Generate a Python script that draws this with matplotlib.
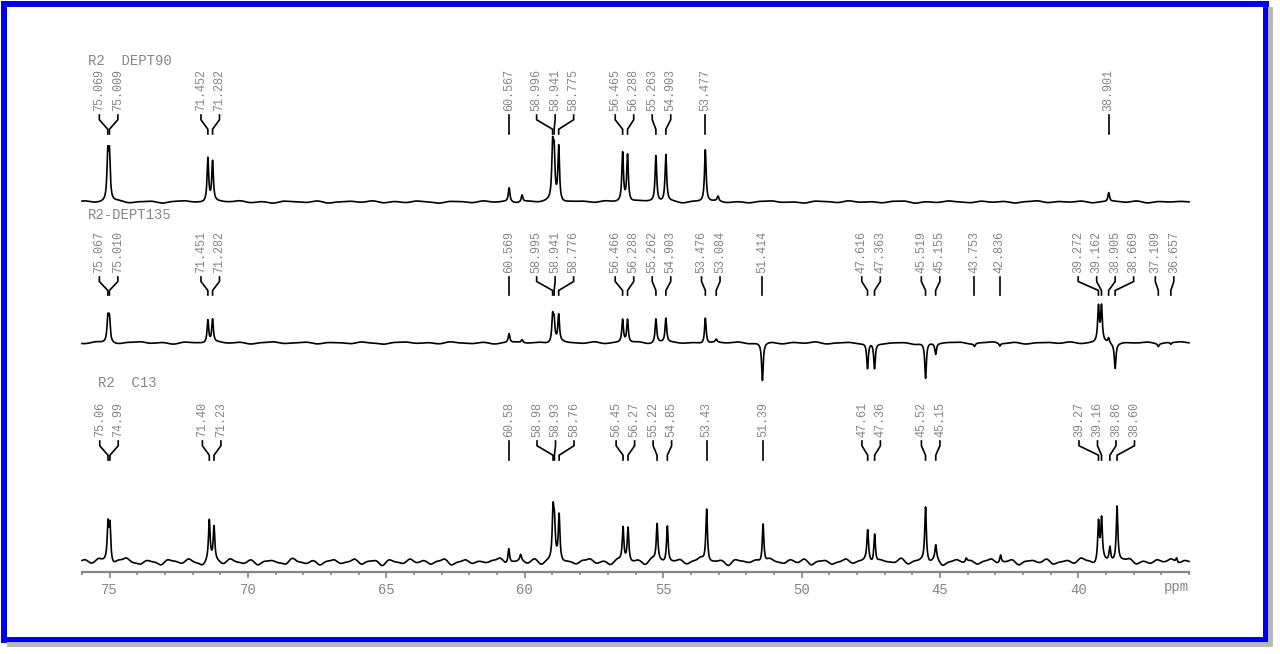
import numpy as np
import matplotlib.pyplot as plt
from matplotlib.patches import Rectangle
from matplotlib.ticker import MultipleLocator

# ---- peak lists (ppm, intensity in plot units) ----
d90_ppm = [75.069, 75.009, 71.452, 71.282, 60.567, 58.996, 58.941, 58.775,
           56.465, 56.288, 55.263, 54.903, 53.477, 38.901]
d90_int = [44, 44, 44, 40, 14, 50, 44, 55, 49, 47, 46, 47, 52, 9]
d90_minor_ppm = [60.10, 53.02]
d90_minor_int = [7, 5]

d135_ppm = [75.067, 75.010, 71.451, 71.282, 60.569, 58.995, 58.941, 58.776,
            56.466, 56.288, 55.262, 54.903, 53.476, 53.084, 51.414, 47.616,
            47.363, 45.519, 45.155, 43.753, 42.836, 39.272, 39.162, 38.905,
            38.669, 37.109, 36.657]
d135_int = [23, 23, 23, 23, 9, 25, 20, 27, 23, 23, 24, 24, 26, 3, -38, -26,
            -26, -36, -11, -3, -3, 35, 35, 5, -25, -3, -2]
d135_minor_ppm = [60.10]
d135_minor_int = [3]

c13_ppm = [75.06, 74.99, 71.40, 71.23, 60.58, 58.98, 58.93, 58.76, 56.45,
           56.27, 55.22, 54.85, 53.43, 51.39, 47.61, 47.36, 45.52, 45.15,
           39.27, 39.16, 38.86, 38.60]
c13_int = [36, 36, 40, 34, 15, 46, 32, 46, 34, 34, 37, 37, 54, 40, 30, 30,
           55, 14, 39, 40, 14, 56]
c13_minor_ppm = [60.15, 42.81, 44.05, 36.45]
c13_minor_int = [6, 8, 4, 5]

# baseline wiggles
c13_noise = [1.5, -1.0, 2.0, 0.5, -2.0, 1.0, 2.5, -0.5, -1.5, 1.0, 0.0, -2.0, 1.5, 0.5, -1.0, 2.0, -0.5, -2.5, 1.0, 0.5,
             -1.5, 2.0, 0.0, -1.0, 1.5, -2.0, 0.5, 1.0, -0.5, -1.5, 2.5, 0.0, -1.0, 1.0, -2.0, 0.5, 1.5, -1.0, 0.0, 2.0,
             -1.5, 0.5, 1.0, -2.5, 1.5, 0.0, -1.0, 2.0, -0.5, 1.0, -1.5, 0.5, 2.0, -2.0, 0.0, 1.5, -1.0, 0.5, -0.5, 1.0,
             2.5, -1.5, 0.0, 1.0, -1.0, 2.0, -2.0, 0.5, 1.5, -0.5, 0.0, -1.5, 1.0, 2.0, -1.0, 0.5, -2.0, 1.5, 0.0, -0.5,
             1.0, -2.0, 2.0, 0.5, -1.0, 0.0, 1.5, -1.5, 0.5, 2.5, -1.0, 0.0, 1.0, -2.5, 1.5, 0.5, -0.5, 1.0, -1.5, 2.0,
             0.0, -1.0, 1.5, -0.5, 2.0, -2.0, 0.5, 1.0, -1.5, 0.0, 2.0, -1.0, 0.5, 1.5, -2.0, 1.0, 0.0, -0.5, 2.5, -1.5,
             0.5, 1.0, -1.0, 2.0, -2.5, 0.0, 1.5, -0.5, 1.0, -1.5, 0.5, 2.0, -1.0, 0.0, 1.5, -2.0, 0.5, 1.0, -0.5, 2.0,
             -1.5, 0.0, 1.0, -1.0, 2.5, 0.5, -2.0, 1.5, 0.0, -0.5, 1.0, 2.0, -1.5, 0.5, -1.0, 1.5, 0.0, 2.0, -1.0, 1.0]
d90_noise = [0.8, -0.5, 0.3, 1.0, -0.8, 0.2, 0.6, -1.0, 0.4, 0.9, -0.3, -0.8, 0.5, 0.0, 1.0, -0.6, 0.3, -1.0, 0.7, 0.2,
             -0.4, 0.9, -0.9, 0.1, 0.6, -0.2, 1.0, -0.7, 0.4, -0.5, 0.8, 0.0, -1.0, 0.5, 0.3, -0.6, 0.9, -0.2, 0.4, -0.8,
             0.6, -0.3, 1.0, -0.9, 0.2, 0.5, -0.5, 0.8, -0.1, -0.7, 0.9, 0.3, -0.4, 0.6, -1.0, 0.4, 0.1, 0.8, -0.6, 0.2,
             -0.8, 0.5, 0.9, -0.3, 0.0, -0.9, 0.7, 0.4, -0.5, 1.0, -0.2, 0.3, -0.7, 0.6, 0.8, -1.0, 0.2, -0.4, 0.9, 0.1,
             -0.6, 0.7, -0.2, 0.5, -0.9, 0.3, 1.0, -0.5, 0.4, -0.1, 0.8, -0.7, 0.2, 0.6, -0.3, 0.9, -0.8, 0.4, 0.0, 0.5]
d135_noise = [-0.6, 0.9, 0.2, -0.8, 0.5, 1.0, -0.3, 0.4, -1.0, 0.7, 0.1, -0.5, 0.8, -0.2, 0.6, -0.9, 0.3, 1.0, -0.4, 0.0,
              0.7, -0.8, 0.4, 0.2, -0.6, 0.9, -0.1, -1.0, 0.5, 0.8, -0.3, 0.3, -0.7, 1.0, 0.0, -0.5, 0.6, -0.9, 0.2, 0.7,
              -0.2, 0.5, -0.8, 0.9, 0.1, -0.4, 1.0, -0.6, 0.3, -0.1, 0.8, -0.9, 0.4, 0.6, -0.3, 0.2, -1.0, 0.7, 0.0, 0.9,
              -0.5, 0.3, 0.8, -0.7, 0.5, -0.2, 1.0, -0.8, 0.1, 0.6, -0.4, 0.9, -0.6, 0.2, 0.4, -1.0, 0.7, -0.1, 0.5, 0.8,
              -0.7, 0.3, 1.0, -0.4, 0.6, -0.9, 0.2, 0.5, -0.3, 0.9, -0.6, 0.1, 0.7, -0.8, 0.4, 0.0, 0.8, -0.5, 0.6, 1.0]

tick_major = [75, 70, 65, 60, 55, 50, 45, 40]

# ---- layout (pixel units of the 1280x654 canvas) ----
W, H = 1280, 654
X_LEFT, X_RIGHT = 82, 1189          # ppm axis ends
PPM_LEFT, PPM_RIGHT = 76.0, 36.0
AXIS_Y = 572
PX_PER_PPM = (X_RIGHT - X_LEFT) / (PPM_LEFT - PPM_RIGHT)
GRAY = '#858585'
MONO = 'Liberation Mono'


def lorentz_sum(x, centers, heights, gamma):
    y = np.zeros_like(x)
    for c, h in zip(centers, heights):
        y += h / (1 + ((x - c) / gamma) ** 2)
    return y


def gauss_sum(x, centers, heights, sigma):
    y = np.zeros_like(x)
    for c, h in zip(centers, heights):
        y += h * np.exp(-0.5 * ((x - c) / sigma) ** 2)
    return y


def spread_labels(px, gap):
    """push labels apart so neighbours are at least `gap` px apart"""
    order = np.argsort(px)
    xs = np.asarray(px, dtype=float)[order]
    groups = [[i] for i in range(len(xs))]
    while True:
        pos = [xs[g].mean() + (np.arange(len(g)) - (len(g) - 1) / 2) * gap for g in groups]
        merged = False
        for k in range(len(groups) - 1):
            if pos[k][-1] + gap > pos[k + 1][0] + 1e-9:
                groups[k] = groups[k] + groups[k + 1]
                del groups[k + 1]
                merged = True
                break
        if not merged:
            break
    out = np.empty(len(xs))
    out[order] = np.concatenate(pos)
    return out


def draw_trace(ax, x, base, ppm, ints, minor_ppm, minor_int, noise, noise_step, noise_amp):
    y = lorentz_sum(x, ppm, ints, 0.035)
    y += lorentz_sum(x, minor_ppm, minor_int, 0.035)
    npos = 75.9 - noise_step * np.arange(len(noise))
    y += gauss_sum(x, npos, np.asarray(noise) * noise_amp, noise_step * 0.4)
    ax.plot(x, base - y, color='black', lw=1.2, clip_on=False)


def draw_labels(ax, ppm, fmt, y_text, y_top, y_bot):
    ppm = np.asarray(ppm)
    peak_px = X_LEFT + (PPM_LEFT - ppm) * PX_PER_PPM
    lab_px = spread_labels(peak_px, 18.5)
    lab_ppm = PPM_LEFT - (lab_px - X_LEFT) / PX_PER_PPM
    h = y_bot - y_top
    for p, lp in zip(ppm, lab_ppm):
        ax.text(lp, y_text, fmt.format(p), rotation=90, ha='center', va='bottom',
                fontsize=8.5, family=MONO, color=GRAY, clip_on=False)
        ax.plot([lp, lp, p, p], [y_top, y_top + 0.25 * h, y_bot - 0.25 * h, y_bot],
                color='black', lw=1.2, clip_on=False, solid_joinstyle='miter')


fig = plt.figure(figsize=(W / 100, H / 100), dpi=100)

# blue frame with drop shadow on the right and bottom
bg = fig.add_axes([0, 0, 1, 1])
bg.set_xlim(0, W)
bg.set_ylim(H, 0)
bg.axis('off')
bg.plot([1270, 1270, 9], [9, 644, 644], color='#b8b8b8', lw=3.5, solid_joinstyle='miter')
bg.add_patch(Rectangle((4, 4), 1262, 636, fill=False, ec='#0000f0', lw=4.3))

ax = fig.add_axes([X_LEFT / W, (H - AXIS_Y) / H, (X_RIGHT - X_LEFT) / W, (AXIS_Y - 30) / H])
ax.set_facecolor('none')
ax.set_xlim(PPM_LEFT, PPM_RIGHT)
ax.set_ylim(AXIS_Y, 30)

x = np.linspace(PPM_LEFT, PPM_RIGHT, 16001)

# DEPT90
draw_trace(ax, x, 202, d90_ppm, d90_int, d90_minor_ppm, d90_minor_int, d90_noise, 0.4, 1.2)
draw_labels(ax, d90_ppm, '{:.3f}', 111, 115, 134)
ax.text(PPM_LEFT - (88 - X_LEFT) / PX_PER_PPM, 61, 'R2  DEPT90', ha='left', va='center',
        fontsize=10, family=MONO, color=GRAY, clip_on=False)

# DEPT135
draw_trace(ax, x, 343, d135_ppm, d135_int, d135_minor_ppm, d135_minor_int, d135_noise, 0.4, 1.2)
draw_labels(ax, d135_ppm, '{:.3f}', 273, 277, 295)
ax.text(PPM_LEFT - (88 - X_LEFT) / PX_PER_PPM, 215, 'R2-DEPT135', ha='left', va='center',
        fontsize=10, family=MONO, color=GRAY, clip_on=False)

# C13
draw_trace(ax, x, 562, c13_ppm, c13_int, c13_minor_ppm, c13_minor_int, c13_noise, 0.25, 1.5)
draw_labels(ax, c13_ppm, '{:.2f}', 437, 441, 460)
ax.text(PPM_LEFT - (98 - X_LEFT) / PX_PER_PPM, 383, 'R2  C13', ha='left', va='center',
        fontsize=10, family=MONO, color=GRAY, clip_on=False)

# ppm axis
for s in ['top', 'left', 'right']:
    ax.spines[s].set_visible(False)
ax.spines['bottom'].set_color(GRAY)
ax.spines['bottom'].set_linewidth(1.6)
ax.set_yticks([])
ax.set_xticks(tick_major)
ax.set_xticklabels([str(t) for t in tick_major])
ax.xaxis.set_minor_locator(MultipleLocator(1))
ax.tick_params(axis='x', which='major', direction='out', length=4.5, width=1.2,
               color=GRAY, labelcolor=GRAY, labelsize=10, pad=3.5)
ax.tick_params(axis='x', which='minor', direction='out', length=2.2, width=1.2, color=GRAY)
for lab in ax.get_xticklabels():
    lab.set_family(MONO)
ax.text(PPM_RIGHT, 587, 'ppm', ha='right', va='center', fontsize=10, family=MONO,
        color=GRAY, clip_on=False)

fig.savefig('out.png', dpi=100)
